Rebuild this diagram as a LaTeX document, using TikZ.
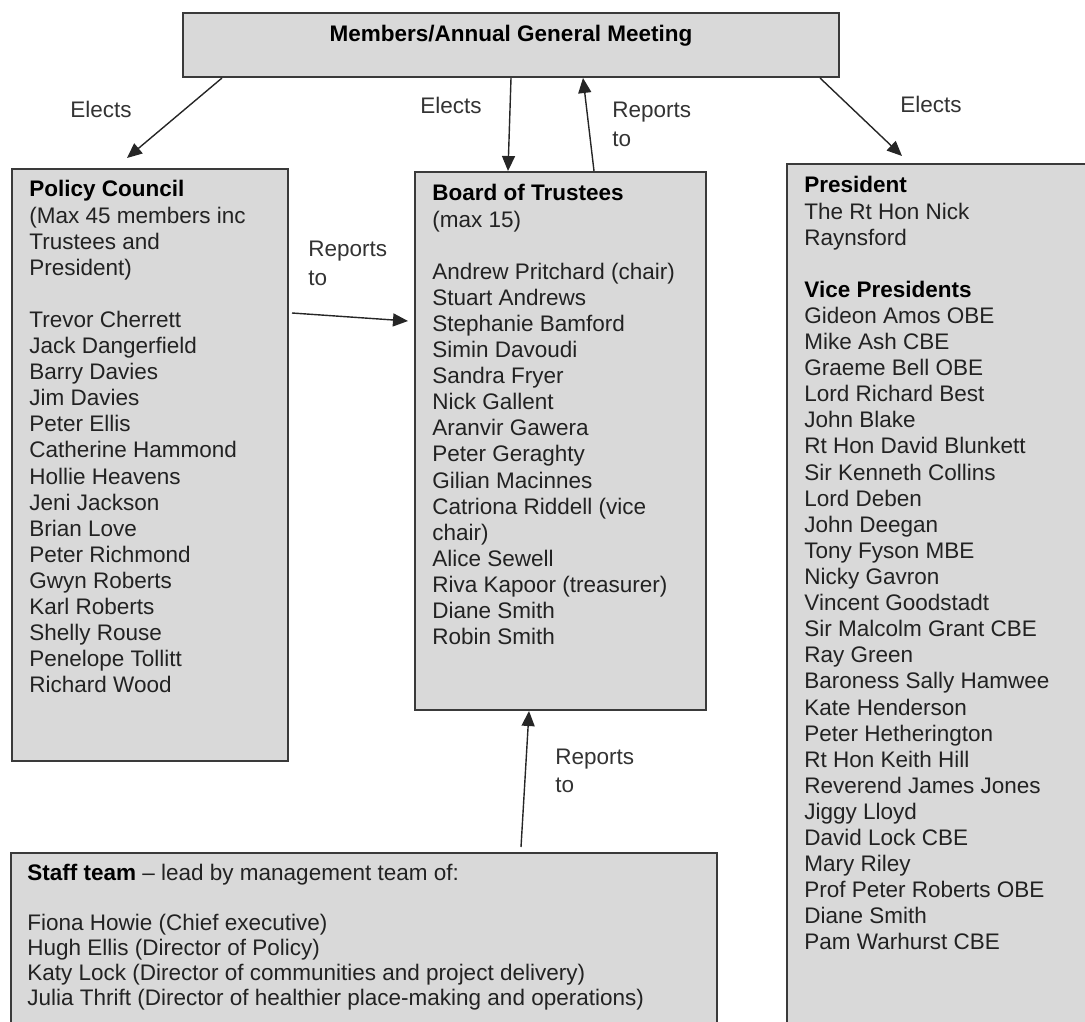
\documentclass[tikz,border=0pt]{standalone}
\usepackage{fontspec}
\setmainfont{Liberation Sans}
\usetikzlibrary{calc,arrows.meta}
\definecolor{boxfill}{HTML}{D9D9D9}
\definecolor{boxline}{HTML}{3A3A3A}
\definecolor{bodytext}{HTML}{222222}
\definecolor{lbltext}{HTML}{333333}
\definecolor{arrowcol}{HTML}{262626}
\newcommand{\hd}[1]{\textbf{\color{black}#1}}
\begin{document}
\begin{tikzpicture}[x=0.5pt,y=-0.5pt,
  every node/.style={font=\fontsize{11.25pt}{13.05pt}\selectfont},
  box/.style={draw=boxline, fill=boxfill, line width=1pt, rectangle, inner sep=0pt, anchor=north west},
  txt/.style={anchor=base west, inner sep=0pt, text=bodytext},
  lbl/.style={anchor=base west, inner sep=0pt, text=lbltext},
  arr/.style={-{Triangle[length=7.5pt,width=6.5pt]}, line width=0.7pt, draw=arrowcol}]
\useasboundingbox (0,0) rectangle (1085,1021);

% boxes
\node[box, minimum width=328pt, minimum height=32pt] (agm) at (182,12) {};
\node[box, minimum width=138pt, minimum height=296pt] (pol) at (11,168) {};
\node[box, minimum width=145.5pt, minimum height=269pt] (board) at (414,171) {};
\node[box, minimum width=155pt, minimum height=435pt] (pres) at (786,163) {};
\node[box, minimum width=353pt, minimum height=100pt] (staff) at (10,852) {};

% texts
\node[anchor=base, inner sep=0pt, text=black] (agmt) at ($(agm.north)+(0,30)$) {\bfseries Members/Annual General Meeting};

\node[txt] (polt) at ($(pol.north west)+(18,29)$) {\parbox[t]{135pt}{\raggedright
\hd{Policy Council}\\
(Max 45 members inc\\
Trustees and\\
President)\\[13.05pt]
Trevor Cherrett\\
Jack Dangerfield\\
Barry Davies\\
Jim Davies\\
Peter Ellis\\
Catherine Hammond\\
Hollie Heavens\\
Jeni Jackson\\
Brian Love\\
Peter Richmond\\
Gwyn Roberts\\
Karl Roberts\\
Shelly Rouse\\
Penelope Tollitt\\
Richard Wood}};

\node[txt] (boardt) at ($(board.north west)+(18,30)$) {\parbox[t]{140pt}{\raggedright
\hd{Board of Trustees}\\
(max 15)\\[13.05pt]
Andrew Pritchard (chair)\\
Stuart Andrews\\
Stephanie Bamford\\
Simin Davoudi\\
Sandra Fryer\\
Nick Gallent\\
Aranvir Gawera\\
Peter Geraghty\\
Gilian Macinnes\\
Catriona Riddell (vice\\
chair)\\
Alice Sewell\\
Riva Kapoor (treasurer)\\
Diane Smith\\
Robin Smith}};

\node[txt] (prest) at ($(pres.north west)+(18,30)$) {\parbox[t]{140pt}{\raggedright
\hd{President}\\
The Rt Hon Nick\\
Raynsford\\[13.05pt]
\hd{Vice Presidents}\\
Gideon Amos OBE\\
Mike Ash CBE\\
Graeme Bell OBE\\
Lord Richard Best\\
John Blake\\
Rt Hon David Blunkett\\
Sir Kenneth Collins\\
Lord Deben\\
John Deegan\\
Tony Fyson MBE\\
Nicky Gavron\\
Vincent Goodstadt\\
Sir Malcolm Grant CBE\\
Ray Green\\
Baroness Sally Hamwee\\
Kate Henderson\\
Peter Hetherington\\
Rt Hon Keith Hill\\
Reverend James Jones\\
Jiggy Lloyd\\
David Lock CBE\\
Mary Riley\\
Prof Peter Roberts OBE\\
Diane Smith\\
Pam Warhurst CBE}};

\node[txt] (stafft) at ($(staff.north west)+(17,28)$) {\parbox[t]{340pt}{\raggedright\fontsize{11.25pt}{12.5pt}\selectfont
\hd{Staff team} -- lead by management team of:\\[12.5pt]
Fiona Howie (Chief executive)\\
Hugh Ellis (Director of Policy)\\
Katy Lock (Director of communities and project delivery)\\
Julia Thrift (Director of healthier place-making and operations)}};

% connector labels
\node[lbl] (l1) at (70,118) {Elects};
\node[lbl] (l2) at (420,114) {Elects};
\node[lbl] (l3) at (612,118) {\parbox[t]{50pt}{\fontsize{11.25pt}{14.25pt}\selectfont Reports\\to}};
\node[lbl] (l4) at (900,113) {Elects};
\node[lbl] (l5) at (308,257) {\parbox[t]{50pt}{\fontsize{11.25pt}{14.25pt}\selectfont Reports\\to}};
\node[lbl] (l6) at (555,764) {\parbox[t]{50pt}{\fontsize{11.25pt}{14.25pt}\selectfont Reports\\to}};

% connectors
\draw[arr] ($(agm.south west)+(40,0)$) -- ($(pol.north west)+(116,-10)$);
\draw[arr] ($(agm.south west)+(329,0)$) -- ($(board.north west)+(94,0)$);
\draw[arr] ($(board.north west)+(180,0)$) -- ($(agm.south west)+(401,0)$);
\draw[arr] ($(agm.south west)+(638,0)$) -- ($(pres.north west)+(116,-7)$);
\draw[arr] ($(pol.north east)+(3,145)$) -- ($(board.north west)+(-6,150)$);
\draw[arr] ($(staff.north west)+(511,-5)$) -- ($(board.south west)+(115,0)$);
\end{tikzpicture}
\end{document}
